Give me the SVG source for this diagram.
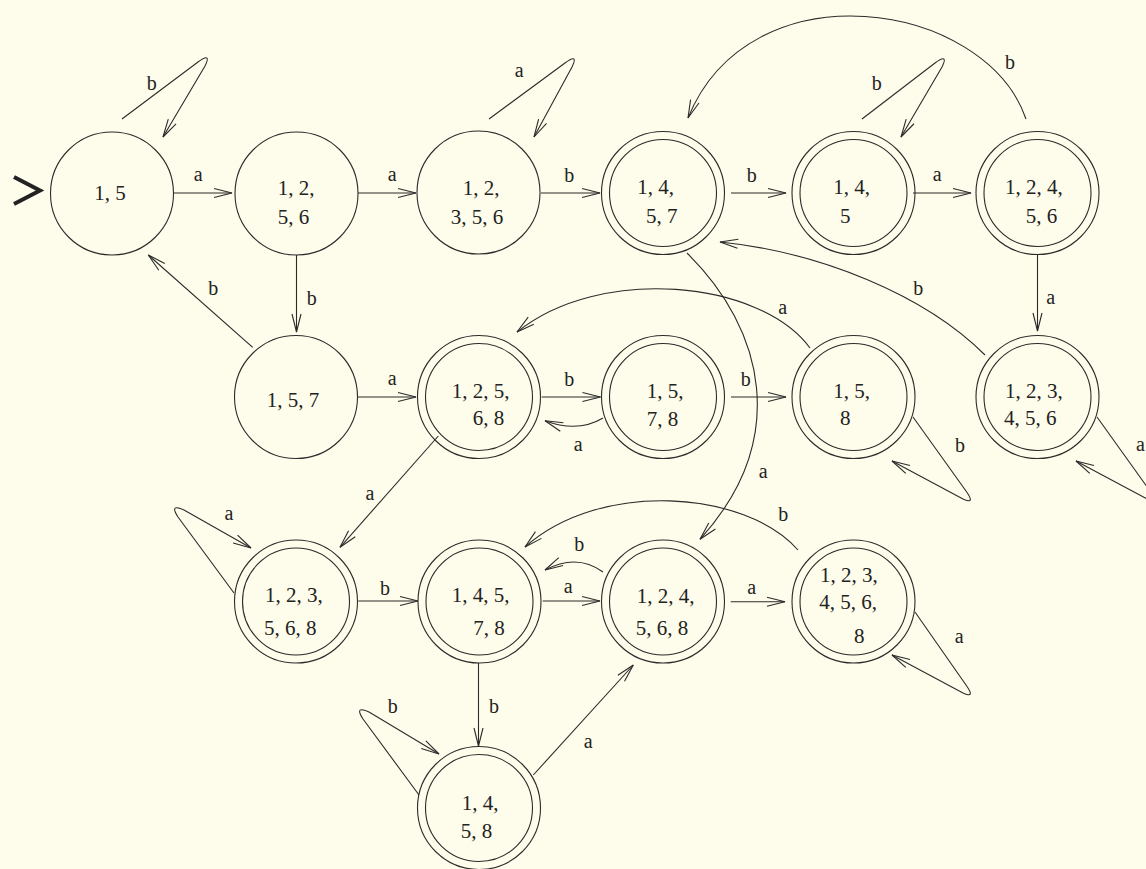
<svg xmlns="http://www.w3.org/2000/svg" width="1146" height="869" viewBox="0 0 1146 869">
<defs>
<style>
.bg{fill:#FEFCEA}
.st circle{fill:none;stroke:#2b2b2b;stroke-width:1.1}
.st text{font-family:"Liberation Serif","Times New Roman",serif;font-size:21px;fill:#222}
.edges path{fill:none;stroke:#2b2b2b;stroke-width:1.1;marker-end:url(#ah)}
.lbl text{font-family:"Liberation Serif","Times New Roman",serif;font-size:20px;fill:#222;text-anchor:middle}
</style>
<marker id="ah" markerUnits="userSpaceOnUse" markerWidth="24" markerHeight="14" refX="20" refY="7" orient="auto" viewBox="0 0 24 14">
<path d="M2,2.5 L20,7 L2,11.5" fill="none" stroke="#2b2b2b" stroke-width="1.1"/>
</marker>
</defs>
<rect class="bg" x="0" y="0" width="1146" height="869"/>
<polyline id="start" points="14,177 40,190.5 14,204" fill="none" stroke="#222" stroke-width="4" stroke-linejoin="miter"/>

<g id="edges" class="edges">
<path id="e1" d="M122,119 L198,62 Q212,52 205,66 L163,137"/>
<path id="e2" d="M174,193 L232,193"/>
<path id="e3" d="M358,193 L416,193"/>
<path id="e4" d="M489,119 L565,63 Q579,53 572,67 L534,137"/>
<path id="e5" d="M541,193 L600,193"/>
<path id="e6" d="M731,193 L786,193"/>
<path id="e7" d="M862,119 L935,63 Q949,53 942,67 L901,137"/>
<path id="e8" d="M913,193 L971,193"/>
<path id="e9" d="M1026,119 C985,0 750,-35 688,118"/>
<path id="e10" d="M1037.5,254 L1037.5,331"/>
<path id="e11" d="M985,355 C925,295 820,252 720,242"/>
<path id="e12" d="M296.5,255 L296.5,332"/>
<path id="e13" d="M252.7,347.3 L148.3,255"/>
<path id="e14" d="M357.7,397 L416,397"/>
<path id="e15" d="M541.7,397 L600.5,397"/>
<path id="e16" d="M603,418 Q578,433 545,420.7"/>
<path id="e17" d="M731,397 L786,397"/>
<path id="e18" d="M810,348 C760,280 600,265 517,332"/>
<path id="e19" d="M913,417 L966,491 Q976,505 963,499 L892,461"/>
<path id="e20" d="M1097,417 L1150,491 Q1160,505 1147,499 L1076,461"/>
<path id="e21" d="M438.3,436 L340,547.3"/>
<path id="e22" d="M234,593 L178,517 Q169,503 184,510 L251,548"/>
<path id="e23" d="M358.3,601 L418,601"/>
<path id="e24" d="M687,253 C765,330 790,440 700,539.3"/>
<path id="e25" d="M798,550 C745,490 600,480 525,547"/>
<path id="e26" d="M603,572 Q577,553 545,570"/>
<path id="e27" d="M542.7,601 L600,601"/>
<path id="e28" d="M730.7,601.7 L785,601.7"/>
<path id="e29" d="M915,612 L966,685 Q976,699 963,693 L892,655"/>
<path id="e30" d="M478.5,663 L478.5,746"/>
<path id="e31" d="M419,795 L363,719 Q354,705 369,712 L439,754"/>
<path id="e32" d="M533.3,775 L633.3,665"/>
</g>

<g id="labels" class="lbl">
<text x="151.7" y="90">b</text>
<text x="198.3" y="181">a</text>
<text x="392.3" y="181">a</text>
<text x="519.3" y="77">a</text>
<text x="569.3" y="181.5">b</text>
<text x="751.7" y="181.5">b</text>
<text x="876.7" y="89.5">b</text>
<text x="937.3" y="180.5">a</text>
<text x="1010" y="69">b</text>
<text x="1050.7" y="304">a</text>
<text x="918.3" y="295">b</text>
<text x="311.7" y="305">b</text>
<text x="213.3" y="295">b</text>
<text x="392.3" y="384.5">a</text>
<text x="569.3" y="386">b</text>
<text x="578.3" y="451">a</text>
<text x="745.7" y="386">b</text>
<text x="782.7" y="313.5">a</text>
<text x="960" y="451.5">b</text>
<text x="1140.5" y="451">a</text>
<text x="370" y="499.5">a</text>
<text x="229" y="519.5">a</text>
<text x="385" y="594.5">b</text>
<text x="763.3" y="478">a</text>
<text x="783.3" y="520.5">b</text>
<text x="579.3" y="551">b</text>
<text x="568.3" y="593">a</text>
<text x="751.7" y="594">a</text>
<text x="959.3" y="643">a</text>
<text x="494" y="712.5">b</text>
<text x="392.7" y="712.5">b</text>
<text x="588.3" y="748">a</text>
</g>

<g id="n15" class="st"><circle cx="112" cy="193.5" r="61.5"/><text x="94.3" y="200">1, 5</text></g>
<g id="n1256" class="st"><circle cx="296.5" cy="193.5" r="61.5"/><text x="277.7" y="195">1, 2,</text><text x="277.7" y="224">5, 6</text></g>
<g id="n12356" class="st"><circle cx="478.5" cy="192.5" r="61.5"/><text x="462.7" y="195">1, 2,</text><text x="450.7" y="224">3, 5, 6</text></g>
<g id="n1457" class="st"><circle cx="663" cy="193" r="61.5"/><circle cx="663" cy="193" r="53.5"/><text x="637.3" y="194">1, 4,</text><text x="646" y="223.3">5, 7</text></g>
<g id="n145" class="st"><circle cx="853.5" cy="193" r="61.5"/><circle cx="853.5" cy="193" r="53.5"/><text x="833.3" y="194">1, 4,</text><text x="840" y="223.3">5</text></g>
<g id="n12456" class="st"><circle cx="1037.5" cy="193" r="61.5"/><circle cx="1037.5" cy="193" r="53.5"/><text x="1005" y="194">1, 2, 4,</text><text x="1025.7" y="223.3">5, 6</text></g>
<g id="n157" class="st"><circle cx="296" cy="397" r="61.5"/><text x="266.7" y="407.3">1, 5, 7</text></g>
<g id="n12568" class="st"><circle cx="479" cy="397" r="61.5"/><circle cx="479" cy="397" r="53.5"/><text x="451.7" y="398.3">1, 2, 5,</text><text x="472.7" y="425">6, 8</text></g>
<g id="n1578" class="st"><circle cx="663" cy="397" r="61.5"/><circle cx="663" cy="397" r="53.5"/><text x="646.7" y="398.3">1, 5,</text><text x="646.7" y="426">7, 8</text></g>
<g id="n158" class="st"><circle cx="853.5" cy="397" r="61.5"/><circle cx="853.5" cy="397" r="53.5"/><text x="833.3" y="398.3">1, 5,</text><text x="840" y="425">8</text></g>
<g id="n123456" class="st"><circle cx="1037.5" cy="397" r="61.5"/><circle cx="1037.5" cy="397" r="53.5"/><text x="1005" y="398.3">1, 2, 3,</text><text x="1004" y="425">4, 5, 6</text></g>
<g id="n123568" class="st"><circle cx="296" cy="601.5" r="61.5"/><circle cx="296" cy="601.5" r="53.5"/><text x="265" y="601.7">1, 2, 3,</text><text x="264" y="635">5, 6, 8</text></g>
<g id="n14578" class="st"><circle cx="479.5" cy="601.5" r="61.5"/><circle cx="479.5" cy="601.5" r="53.5"/><text x="451.7" y="601.7">1, 4, 5,</text><text x="473.3" y="635">7, 8</text></g>
<g id="n124568" class="st"><circle cx="663" cy="601.5" r="61.5"/><circle cx="663" cy="601.5" r="53.5"/><text x="636.7" y="603.3">1, 2, 4,</text><text x="635.7" y="635">5, 6, 8</text></g>
<g id="n1234568" class="st"><circle cx="853.5" cy="601.5" r="61.5"/><circle cx="853.5" cy="601.5" r="53.5"/><text x="820" y="581.7">1, 2, 3,</text><text x="819.3" y="609.3">4, 5, 6,</text><text x="854" y="642.7">8</text></g>
<g id="n1458" class="st"><circle cx="479" cy="808" r="61.5"/><circle cx="479" cy="808" r="53.5"/><text x="461.7" y="810">1, 4,</text><text x="460.7" y="838.3">5, 8</text></g>
</svg>
